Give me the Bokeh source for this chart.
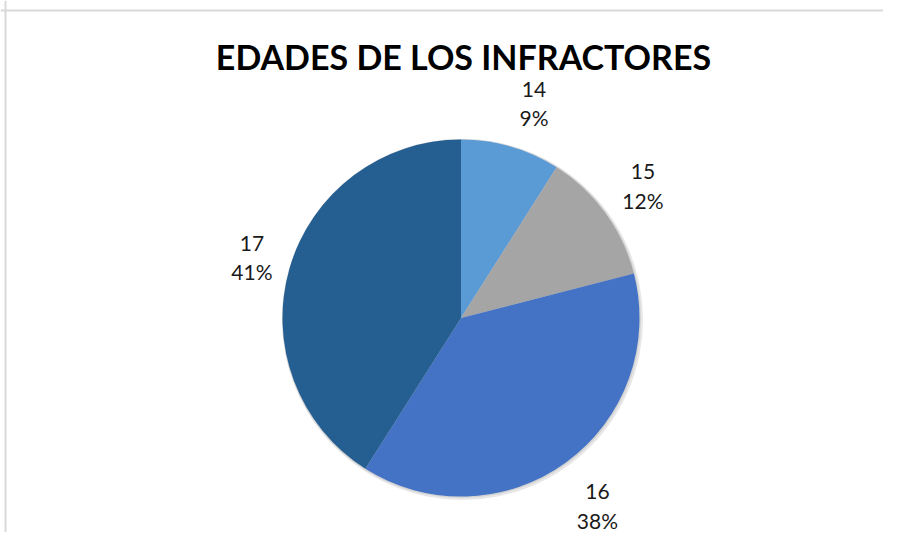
import math
from bokeh.plotting import figure
from bokeh.models import Range1d, Label, Span, ColumnDataSource
from bokeh.core.properties import value
from bokeh.embed import file_html
from bokeh.resources import INLINE

# data
ages = ["14", "15", "16", "17"]
percents = [9, 12, 38, 41]
colors = ["#5B9BD5", "#A5A5A5", "#4472C4", "#255E91"]
title_text = "EDADES DE LOS INFRACTORES"

W, H = 883, 532
p = figure(width=W, height=H, output_backend="svg", toolbar_location=None,
           x_range=Range1d(0, W), y_range=Range1d(0, H),
           min_border=0, min_border_left=0, min_border_right=0,
           min_border_top=0, min_border_bottom=0)
p.axis.visible = False
p.grid.visible = False
p.outline_line_color = None
p.background_fill_color = "white"
p.border_fill_color = "white"

# chart border (left and top edges)
p.add_layout(Span(location=5, dimension="height", line_color="#d9d9d9", line_width=2))
p.add_layout(Span(location=H - 10, dimension="width", line_color="#d9d9d9", line_width=2))

cx, cy, r = 460.5, H - 317.5, 178.5
total = sum(percents)
starts, ends = [], []
acc = 0.0
for v in percents:
    a0 = math.pi / 2 - 2 * math.pi * acc / total
    acc += v
    a1 = math.pi / 2 - 2 * math.pi * acc / total
    starts.append(a0)
    ends.append(a1)

# soft shadow
p.circle(x=[cx + 1.5], y=[cy - 1.5], radius=r + 2, fill_color="#d0d0d0",
         fill_alpha=0.5, line_color=None)
p.circle(x=[cx + 0.5], y=[cy - 0.5], radius=r + 1, fill_color="#bfbfbf",
         fill_alpha=0.5, line_color=None)

src = ColumnDataSource(dict(start=starts, end=ends, color=colors,
                            x=[cx] * 4, y=[cy] * 4))
p.wedge(x="x", y="y", radius=r, start_angle="start", end_angle="end",
        direction="clock", fill_color="color", line_color=None, source=src)

# data labels placed outside the pie along mid-angle
label_r = [1.27, 1.26, 1.30, 1.22]
angle_shift = [-0.045, 0.0, 0.0, 0.0]
lx, ly, txt = [], [], []
for i, (a0, a1) in enumerate(zip(starts, ends)):
    m = (a0 + a1) / 2 + angle_shift[i]
    x = cx + r * label_r[i] * math.cos(m)
    y = cy + r * label_r[i] * math.sin(m)
    lx += [x, x]
    ly += [y + 14, y - 14.5]
    txt += [ages[i], f"{percents[i]}%"]

p.text(x=lx, y=ly, text=txt, text_font=value("Lato"), text_font_size="21px",
       text_align="center", text_baseline="middle", text_color="#1a1a1a")

p.add_layout(Label(x=463, y=H - 56, text=title_text, text_font="Lato",
                   text_font_size="34px", text_font_style="bold",
                   text_align="center", text_baseline="middle", text_color="black"))

open("out.html", "w").write(file_html(p, INLINE))
